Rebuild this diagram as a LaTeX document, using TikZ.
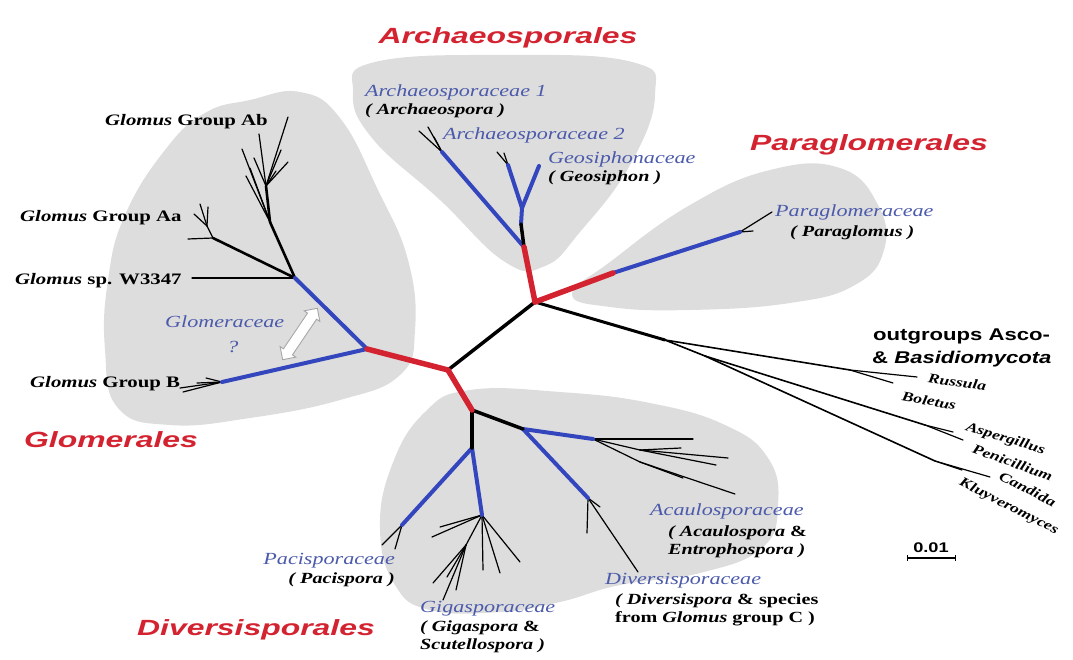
\documentclass[tikz,border=0pt]{standalone}
\usepackage{fontspec}
\newfontfamily\taxafont{Liberation Serif}[FakeStretch=1.3]
\newfontfamily\outfont{Liberation Sans}[FakeStretch=1.3]
\newfontfamily\orderfont{Liberation Sans}[FakeStretch=1.45]
\usepackage{tikz}
\usetikzlibrary{arrows.meta,shapes.arrows}
\definecolor{ordred}{HTML}{D42330}
\definecolor{brblue}{HTML}{3346BE}
\definecolor{famblue}{HTML}{4B5AAA}
\definecolor{blobgray}{HTML}{DDDDDD}
\tikzset{
  blob/.style={fill=blobgray},
  redbr/.style={draw=ordred,line width=5.5pt,line cap=round},
  bluebr/.style={draw=brblue,line width=4pt,line cap=round},
  blackbr/.style={draw=black,line width=3.5pt,line cap=round},
  glomk/.style={draw=black,line width=2.6pt,line cap=round},
  twig/.style={draw=black,line width=1.2pt,line cap=round},
  ogbr/.style={draw=black,line width=1.6pt,line cap=round},
  order/.style={font=\orderfont\bfseries\itshape\fontsize{22}{24}\selectfont,text=ordred,inner sep=0pt},
  fam/.style={font=\taxafont\itshape\fontsize{17}{19}\selectfont,text=famblue,inner sep=0pt,anchor=west},
  genus/.style={font=\taxafont\bfseries\itshape\fontsize{15.5}{18}\selectfont,inner sep=0pt,anchor=west},
  taxon/.style={font=\taxafont\bfseries\fontsize{16}{18}\selectfont,inner sep=0pt,anchor=west},
  ogtxt/.style={font=\outfont\bfseries\fontsize{17}{19}\selectfont,inner sep=0pt,anchor=west},
  outsp/.style={font=\taxafont\bfseries\itshape\fontsize{13.5}{15}\selectfont,inner sep=0pt,anchor=west},
}
\begin{document}
\begin{tikzpicture}[x=1pt,y=-1pt]
  \useasboundingbox (0,0) rectangle (1073,660);
  % grey areas of the orders
  \fill[blob] plot[smooth cycle,tension=0.75] coordinates {(250,100) (300,92) (340,118) (378,190) (408,260) (415,330) (400,375) (340,400) (250,418) (170,425) (118,408) (105,350) (108,280) (125,215) (165,150) (205,113)};
  \fill[blob] plot[smooth cycle,tension=0.75] coordinates {(375,62) (505,55) (632,62) (655,95) (630,165) (580,232) (545,266) (505,262) (440,200) (372,138) (353,92)};
  \fill[blob] plot[smooth cycle,tension=0.75] coordinates {(572,294) (610,262) (690,205) (770,170) (840,168) (878,205) (884,250) (855,285) (790,303) (690,310) (610,307)};
  \fill[blob] plot[smooth cycle,tension=0.75] coordinates {(470,390) (560,392) (650,403) (725,425) (768,458) (778,505) (762,548) (700,573) (620,585) (560,602) (500,612) (430,610) (395,585) (380,530) (392,465) (425,412)};
  % tree points
  \foreach \n/\x/\y in {A/535/302,B/448/370,C/367/349,D/472/410,
      arR/524/247,arK/521/224,arY/522/208,a1/442/152,a2/508/165,gs/539/166,
      a1t1/419/131,a1t2/428/127,a1t3/434/137,a2t1/497/152,a2t2/504/153,
      pR/613/273,pB/740/232,pBt1/772/212,pBt2/753/231,
      og/665/340,ru/850/370,og2/705/356,asp/925/425,can/935/461,
      rus/917/377,bol/893/383,aspt/953/432,pen/963/440,cand/990/477,kluy/962/470,
      G1/295/278,Gb/222/382,Aa/213/238,aa/207/226,ab1/270/222,ab2/266/186,
      w3347/192/278,Aat1/188/239,aat1/200/204,aat2/208/207,aat3/194/214,
      Abtop/288/117,ab1t1/242/149,ab1t2/250/168,ab2t1/259/134,ab2t2/288/162,ab2t3/281/150,
      abx1/254/158,abx2/276/171,abx3/246/176,
      Gbt1/180/388,Gbt2/183/392,Gbt3/197/383,Gbt4/206/378,
      dv1/472/448,dv2/523/429,ac/593/439,ac2/640/450,ac3/640/462,dv/588/498,
      pc/402/525,gg/482/515,gg1/466/545,
      act1/693/439,ac2t1/681/448,ac2t2/728/458,ac3t1/683/478,ac3t2/735/494,ac2t3/716/465,
      dvt1/638/572,dvt2/587/533,dvt3/600/507,pct1/382/545,pct2/395/549,
      ggt1/432/537,gg1t1/433/583,gg1t2/443/600,gg1t3/456/590,gg1t4/447/577,
      ggt2/483/570,ggt3/500/573,ggt4/520/562,ggt5/440/527}
    \coordinate (\n) at (\x,\y);
  % branches
  \foreach \a/\b in {a1/a1t1,a1/a1t2,a1/a1t3,a2/a2t1,a2/a2t2,pB/pBt1,pB/pBt2,
      G1/w3347,Aa/Aat1,Aa/aa,aa/aat1,aa/aat2,aa/aat3,ab2/Abtop,ab1/ab1t1,ab1/ab1t2,
      ab2/ab2t1,ab2/ab2t2,ab2/ab2t3,ab2/abx1,ab2/abx2,ab1/abx3,
      Gb/Gbt1,Gb/Gbt2,Gb/Gbt3,Gb/Gbt4,
      ac/act1,ac/ac2,ac2/ac2t1,ac2/ac2t2,ac2/ac2t3,ac/ac3,ac3/ac3t1,ac3/ac3t2,
      dv/dvt1,dv/dvt2,dv/dvt3,pc/pct1,pc/pct2,
      gg/ggt1,gg/ggt5,gg/gg1,gg1/gg1t1,gg1/gg1t2,gg1/gg1t3,gg1/gg1t4,gg/ggt2,gg/ggt3,gg/ggt4,
      ru/rus,ru/bol,asp/aspt,asp/pen,can/cand,can/kluy}
    \draw[twig] (\a) -- (\b);
  \foreach \a/\b in {og/ru,og/og2,og2/asp,og2/can} \draw[ogbr] (\a) -- (\b);
  \foreach \a/\b in {G1/Aa,G1/ab1,ab1/ab2} \draw[glomk] (\a) -- (\b);
  \foreach \a/\b in {arR/a1,arK/arY,arY/a2,arY/gs,pR/pB,C/G1,C/Gb,
      dv2/ac,dv2/dv,dv1/pc,dv1/gg} \draw[bluebr] (\a) -- (\b);
  \foreach \a/\b in {A/B,arR/arK,D/dv1,D/dv2} \draw[blackbr] (\a) -- (\b);
  \draw[blackbr,line width=3pt] (A) -- (og);
  \foreach \a/\b in {B/C,B/D,A/arR,A/pR} \draw[redbr] (\a) -- (\b);
  % order names
  \node[order] (archord) at (508,38) {Archaeosporales};
  \node[order] (paraord) at (869,145) {Paraglomerales};
  \node[order] (glomord) at (111,440) {Glomerales};
  \node[order] (divord) at (256,630) {Diversisporales};
  % Glomerales
  \node[taxon] (gab) at (105,122) {\textit{Glomus} Group Ab};
  \node[taxon] (gaa) at (20,218) {\textit{Glomus} Group Aa};
  \node[taxon] (gw) at (15,281) {\textit{Glomus} sp. W3347};
  \node[taxon] (gb) at (30,384) {\textit{Glomus} Group B};
  \node[fam] (glomfam) at (165,322) {Glomeraceae};
  \node[fam,anchor=center] (glomq) at (233,347) {?};
  \node[double arrow,draw=gray!70,fill=white,line width=0.9pt,inner sep=5pt,
        double arrow head extend=4pt,minimum height=62pt,rotate=56] (qarrow) at (300,334) {};
  % Archaeosporales and Paraglomerales
  \node[fam] (arch1) at (365,92) {Archaeosporaceae 1};
  \node[genus] (arch1g) at (365,111) {( Archaeospora )};
  \node[fam] (arch2) at (443,135) {Archaeosporaceae 2};
  \node[fam] (geo) at (548,159) {Geosiphonaceae};
  \node[genus] (geog) at (548,178) {( Geosiphon )};
  \node[fam] (para) at (775,212) {Paraglomeraceae};
  \node[genus] (parag) at (790,233) {( Paraglomus )};
  % Diversisporales
  \node[fam] (acau) at (650,511) {Acaulosporaceae};
  \node[genus] (acaug1) at (668,533) {( Acaulospora \textup{\&}};
  \node[genus] (acaug2) at (668,551) {Entrophospora )};
  \node[fam] (div) at (605,581) {Diversisporaceae};
  \node[genus] (divg1) at (615,601) {( Diversispora \textup{\& species}};
  \node[genus] (divg2) at (615,619) {\textup{from} Glomus \textup{group C )}};
  \node[fam,anchor=east] (paci) at (395,561) {Pacisporaceae};
  \node[genus,anchor=east] (pacig) at (395,580) {( Pacispora )};
  \node[fam] (giga) at (420,609) {Gigasporaceae};
  \node[genus] (gigag1) at (420,628) {( Gigaspora \textup{\&}};
  \node[genus] (gigag2) at (420,646) {Scutellospora )};
  % outgroups
  \node[ogtxt] (ogl1) at (873,336) {outgroups Asco-};
  \node[ogtxt] (ogl2) at (872,359) {\& \textit{Basidiomycota}};
  \node[outsp,rotate=-8] (rusl) at (928,378) {Russula};
  \node[outsp,rotate=-10] (boll) at (902,396) {Boletus};
  \node[outsp,rotate=-17] (aspl) at (966,427) {Aspergillus};
  \node[outsp,rotate=-20] (penl) at (973,448) {Penicillium};
  \node[outsp,rotate=-27] (canl) at (1000,475) {Candida};
  \node[outsp,rotate=-27] (kluyl) at (960,482) {Kluyveromyces};
  % scale
  \coordinate (sbL) at (907,558);
  \coordinate (sbR) at (956,558);
  \draw[{Bar[width=6pt]}-{Bar[width=6pt]},line width=1.2pt] (sbL) -- (sbR);
  \node[ogtxt,font=\outfont\bfseries\fontsize{14}{16}\selectfont,anchor=south] (sblab) at (931,553) {0.01};
\end{tikzpicture}
\end{document}
